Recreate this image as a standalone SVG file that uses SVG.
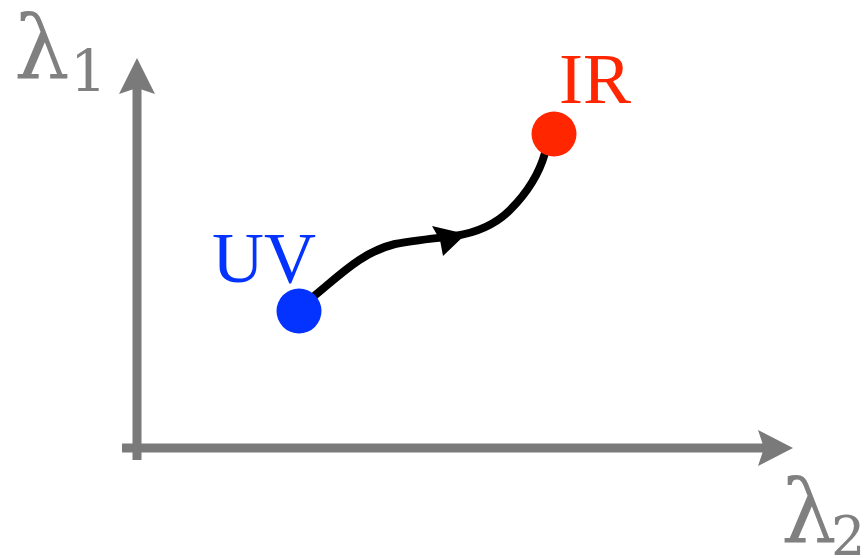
<svg xmlns="http://www.w3.org/2000/svg" width="867" height="558" viewBox="0 0 867 558">
<style>
.axis{stroke:#7a7a7a;stroke-width:9;fill:none}
.ah{fill:#7a7a7a}
.lam{font-family:"DejaVu Serif","Liberation Serif",serif;fill:#808080}
.lbl{font-family:"Liberation Serif","DejaVu Serif",serif;font-size:72px}
</style>
<rect width="867" height="558" fill="#fff"/>
<g id="axes">
<line class="axis" x1="137" y1="460" x2="137" y2="85"/>
<line class="axis" x1="122" y1="448" x2="765" y2="448"/>
<path class="ah" d="M137,58 L155,94 L137,88 L119,94 Z"/>
<path class="ah" d="M793,448 L758,466 L764,448 L758,430 Z"/>
</g>
<g id="label-l1"><text class="lam" x="14" y="78" font-size="88">λ<tspan x="70" y="91" font-size="58">1</tspan></text></g>
<g id="label-l2"><text class="lam" x="781" y="542" font-size="88">λ<tspan x="831" y="555" font-size="54">2</tspan></text></g>
<g id="connectors">
<path d="M313,297 C340,275 362,252 395,244 C415,240 440,238 455,236 C480,232 498,222 510,210 C525,195 538,178 545,153" stroke="#000" stroke-width="8" fill="none"/>
<path d="M466,234 L432,226 L440,240 L443,256 Z" fill="#000"/>
</g>
<g id="node-uv">
<circle cx="299" cy="311" r="22.5" fill="#0433ff"/>
<text class="lbl" x="212" y="282" fill="#0433ff">UV</text>
</g>
<g id="node-ir">
<circle cx="554" cy="134" r="22.5" fill="#ff2600"/>
<text class="lbl" x="559" y="103" fill="#ff2600">IR</text>
</g>
</svg>
